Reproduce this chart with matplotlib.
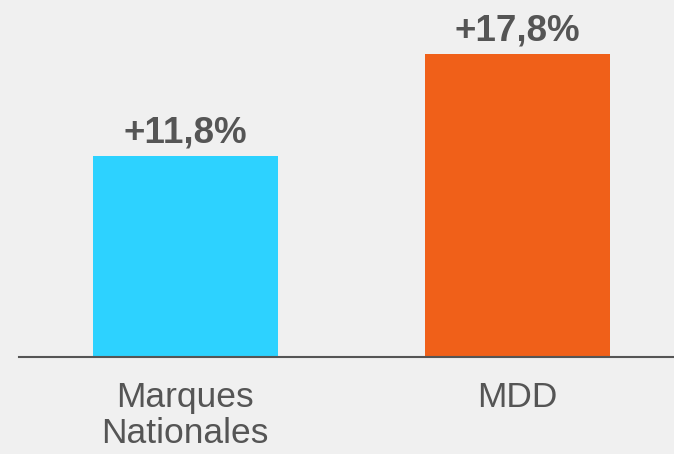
import matplotlib
matplotlib.use("Agg")
import matplotlib.pyplot as plt

categories = ["Marques\nNationales", "MDD"]
values = [11.8, 17.8]
labels = ["+11,8%", "+17,8%"]
colors = ["#2DD2FF", "#F06019"]

plt.rcParams['font.family'] = ['Liberation Sans', 'DejaVu Sans']
bg = "#F0F0F0"
txt = "#555555"

fig = plt.figure(figsize=(6.74, 4.54), dpi=100, facecolor=bg)
ax = fig.add_axes([19/674, 97/454, 1 - 19/674, 357/454])
ax.set_facecolor(bg)

x = list(range(len(categories)))
bars = ax.bar(x, values, width=0.557, color=colors, zorder=2)
for xi, v, lab in zip(x, values, labels):
    ax.annotate(lab, (xi, v), xytext=(0, 4), textcoords="offset points",
                ha="center", va="bottom", fontsize=26.5, fontweight="bold", color=txt)

ax.set_xlim(-0.5, 1.471)
ax.set_ylim(0, 21.0)
ax.set_xticks(x)
ax.set_xticklabels(categories, fontsize=25.5, color=txt, linespacing=1.12)
ax.tick_params(axis="x", length=0, pad=17)
ax.set_yticks([])
for s in ["top", "right", "left"]:
    ax.spines[s].set_visible(False)
ax.spines["bottom"].set_color("#555555")
ax.spines["bottom"].set_linewidth(1.5)

fig.savefig("out.png", dpi=100, facecolor=bg)
